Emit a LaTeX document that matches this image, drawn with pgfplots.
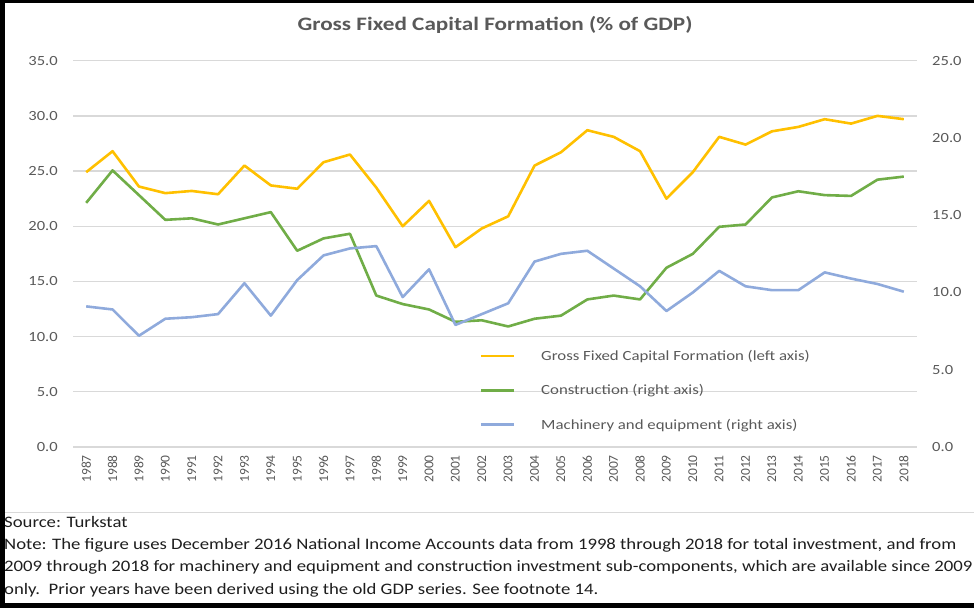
\documentclass[border=0pt]{standalone}
\usepackage{fontspec}
\setmainfont{Carlito}
\usepackage{pgfplots}
\usepackage{pgfplotstable}
\pgfplotsset{compat=1.18}
\definecolor{gfcf}{HTML}{FFC000}
\definecolor{constr}{HTML}{70AD47}
\definecolor{machin}{HTML}{8FAADC}
\definecolor{txtgray}{HTML}{595959}
\definecolor{gridgray}{HTML}{D9D9D9}
\definecolor{notetxt}{HTML}{1E1E1E}

% gfcf on the left axis, the two sub-components on the right axis
\pgfplotstableread{
year gfcf constr mach
1987 24.9 15.8 9.1
1988 26.8 17.9 8.9
1989 23.6 16.3 7.2
1990 23.0 14.7 8.3
1991 23.2 14.8 8.4
1992 22.9 14.4 8.6
1993 25.5 14.8 10.6
1994 23.7 15.2 8.5
1995 23.4 12.7 10.8
1996 25.8 13.5 12.4
1997 26.5 13.8 12.85
1998 23.5 9.8 13.0
1999 20.0 9.25 9.7
2000 22.3 8.9 11.5
2001 18.1 8.1 7.9
2002 19.8 8.2 8.6
2003 20.9 7.8 9.3
2004 25.5 8.3 12.0
2005 26.7 8.5 12.5
2006 28.7 9.55 12.7
2007 28.1 9.8 11.55
2008 26.8 9.55 10.4
2009 22.5 11.6 8.8
2010 24.9 12.5 10.0
2011 28.1 14.25 11.4
2012 27.4 14.4 10.4
2013 28.6 16.15 10.15
2014 29.0 16.55 10.15
2015 29.7 16.3 11.3
2016 29.3 16.25 10.9
2017 30.0 17.3 10.55
2018 29.7 17.5 10.05
}\invdata

\newcommand{\wide}[1]{\scalebox{1.2}[1]{#1}}

\begin{document}
\begin{tikzpicture}[x=1pt,y=1pt]
\useasboundingbox (0,0) rectangle (974,608);
\pgfplotsset{
  common/.style={
    scale only axis, width=844pt, height=386.3pt,
    at={(73pt,161pt)}, anchor=south west,
    xmin=1986.5, xmax=2018.5,
    axis line style={draw=none}, tick style={draw=none}, major tick length=0pt,
    /pgf/number format/assume math mode=true,
    tick label style={font=\fontsize{14}{16}\selectfont, text=txtgray},
    yticklabel style={/pgf/number format/fixed, /pgf/number format/fixed zerofill,
      /pgf/number format/precision=1, inner sep=0pt, xscale=1.18},
    yticklabel shift=15pt,
  },
  serie/.style={line width=2.6pt, line join=round},
}
\begin{axis}[common,
  ymin=0, ymax=35, ytick={0,5,...,35},
  ymajorgrids, grid style={gridgray, line width=1.3pt},
  xtick={1987,...,2018},
  xticklabel style={rotate=90, anchor=east, inner sep=0pt,
    font=\fontsize{13.5}{15}\selectfont, /pgf/number format/1000 sep={}},
  xticklabel shift=8pt,
]
\addplot[serie, gfcf] table[x=year, y=gfcf] {\invdata};
\end{axis}
\begin{axis}[common,
  ymin=0, ymax=25, ytick={0,5,...,25},
  axis y line*=right, axis x line=none,
  legend style={at={(axis description cs:0.478,0.256)}, anchor=north west,
    draw=none, fill=none, font=\fontsize{14}{16}\selectfont, text=txtgray,
    row sep=22.5pt, column sep=26pt, nodes={inner sep=0pt}},
  legend cell align=left,
  legend image code/.code={\draw[#1] (0pt,0pt) -- (33pt,0pt);},
]
\addlegendimage{serie, gfcf}
\addlegendentry{\wide{Gross Fixed Capital Formation (left axis)}}
\addplot[serie, constr] table[x=year, y=constr] {\invdata};
\addlegendentry{\wide{Construction (right axis)}}
\addplot[serie, machin] table[x=year, y=mach] {\invdata};
\addlegendentry{\wide{Machinery and equipment (right axis)}}
\end{axis}

\node[font=\bfseries\fontsize{19}{22}\selectfont, text=txtgray, xscale=1.22] at (495,583) {Gross Fixed Capital Formation (\% of GDP)};

\draw[gridgray, line width=1pt] (5,96) -- (974,96);
\begin{scope}[every node/.style={anchor=base west, inner sep=0pt, text=notetxt, font=\fontsize{16}{19}\selectfont, xscale=1.17}]
\node at (4,81) {Source: Turkstat};
\node at (4,59) {Note: The figure uses December 2016 National Income Accounts data from 1998 through 2018 for total investment, and from};
\node at (4,37) {2009 through 2018 for machinery and equipment and construction investment sub-components, which are available since 2009};
\node at (4,14) {only.\ \ Prior years have been derived using the old GDP series. See footnote 14.};
\end{scope}

\fill[black] (0,0) rectangle (5,608);
\fill[black] (0,605) rectangle (974,608);
\fill[black] (0,0) rectangle (974,5);
\end{tikzpicture}
\end{document}
